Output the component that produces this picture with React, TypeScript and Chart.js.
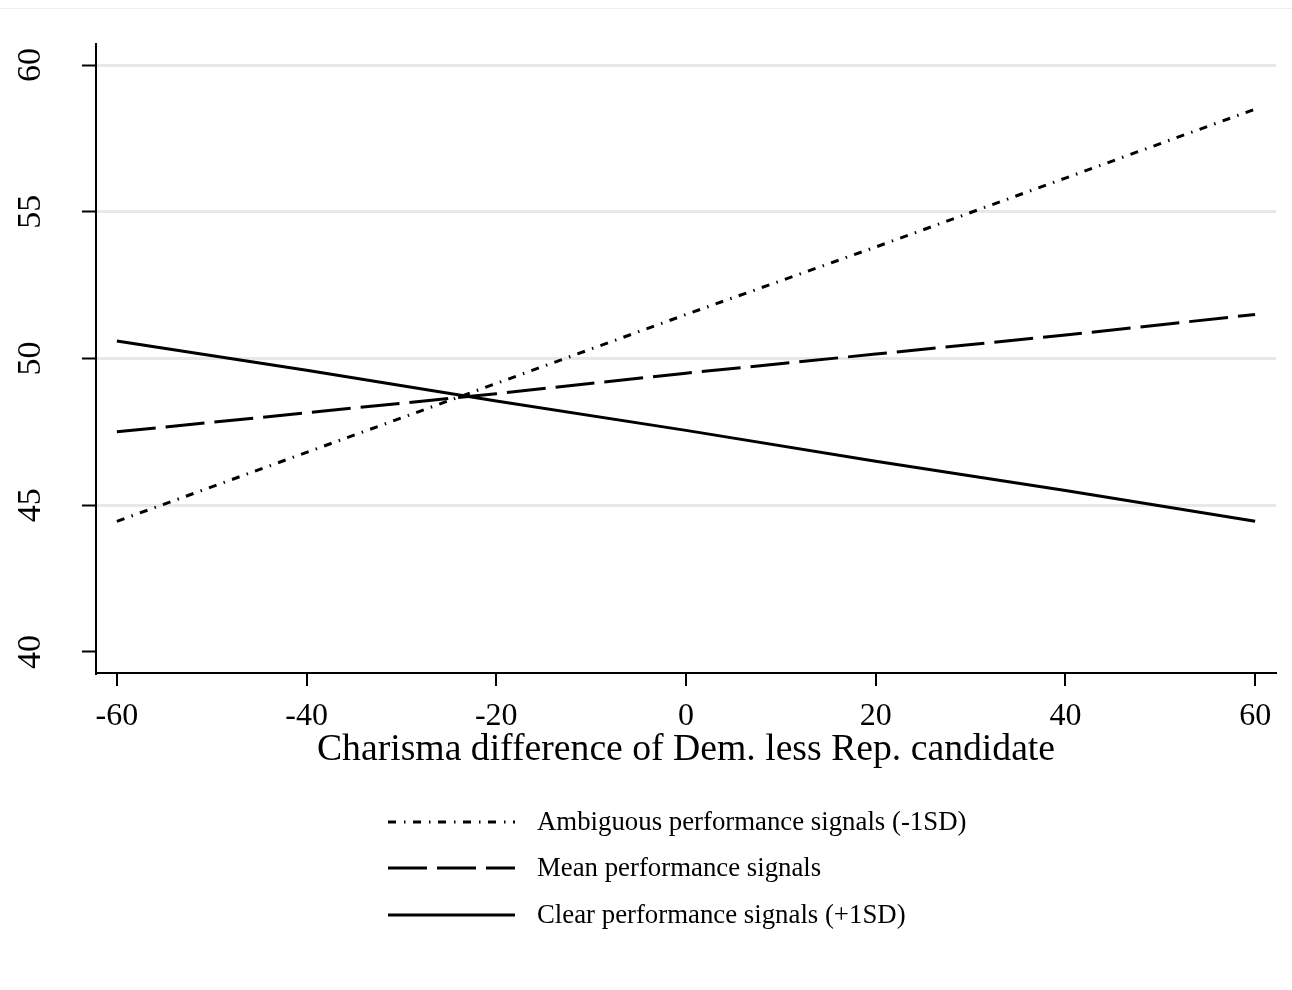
import React, { useEffect, useRef } from "react";
import { Chart, registerables } from "chart.js";

Chart.register(...registerables);

const xValues = [-60, -40, -20, 0, 20, 40, 60];
const ambiguousValues = [44.45, 46.8, 49.15, 51.5, 53.8, 56.15, 58.5];
const meanValues = [47.5, 48.15, 48.8, 49.5, 50.15, 50.8, 51.5];
const clearValues = [50.6, 49.6, 48.55, 47.55, 46.5, 45.5, 44.45];
const xTicks = [-60, -40, -20, 0, 20, 40, 60];
const yTicks = [40, 45, 50, 55, 60];
const seriesLabels = [
  "Ambiguous performance signals (-1SD)",
  "Mean performance signals",
  "Clear performance signals (+1SD)",
];
const xTitle = "Charisma difference of Dem. less Rep. candidate";

const FONT = "'Liberation Serif', 'Times New Roman', Times, serif";

const lineDashes = [[8, 7.5, 1.5, 7.5], [39, 10], []];
const legendDashes = [[8, 8, 1.5, 7.5], [39, 10], []];

const legendPlugin = {
  id: "bottomLegend",
  afterDraw(chart: any) {
    const ctx = chart.ctx;
    const rows = [814, 860, 907];
    ctx.save();
    ctx.strokeStyle = "#000";
    ctx.fillStyle = "#000";
    ctx.lineWidth = 3;
    ctx.font = `26.8px ${FONT}`;
    ctx.textBaseline = "middle";
    ctx.textAlign = "left";
    chart.data.datasets.forEach((ds: any, i: number) => {
      const y = rows[i];
      ctx.setLineDash(legendDashes[i]);
      ctx.beginPath();
      ctx.moveTo(380, y);
      ctx.lineTo(507, y);
      ctx.stroke();
      ctx.setLineDash([]);
      ctx.fillText(ds.label, 529, y + 1);
    });
    ctx.restore();
  },
};

export default function App() {
  const ref = useRef<HTMLCanvasElement | null>(null);

  useEffect(() => {
    if (!ref.current) return;
    const mk = (vals: number[]) => xValues.map((x, i) => ({ x, y: vals[i] }));
    const chart = new Chart(ref.current, {
      type: "line",
      data: {
        datasets: [ambiguousValues, meanValues, clearValues].map((vals, i) => ({
          label: seriesLabels[i],
          data: mk(vals),
          borderColor: "#000",
          backgroundColor: "#000",
          borderWidth: 3,
          borderDash: lineDashes[i],
          pointRadius: 0,
          tension: 0,
          fill: false,
        })),
      },
      options: {
        responsive: false,
        animation: false,
        layout: { padding: { top: 36, right: 8, bottom: 209, left: 0 } },
        plugins: {
          legend: { display: false },
          tooltip: { enabled: false },
        },
        scales: {
          x: {
            type: "linear",
            min: -62.2,
            max: 62.2,
            afterBuildTicks: (s: any) => {
              s.ticks = xTicks.map((v) => ({ value: v }));
            },
            afterFit: (s: any) => {
              s.height = 100;
            },
            ticks: {
              color: "#000",
              font: { family: FONT, size: 32 },
              padding: 11,
              autoSkip: false,
              maxRotation: 0,
              minRotation: 0,
            },
            grid: {
              drawOnChartArea: false,
              drawTicks: true,
              tickLength: 13,
              color: "#000",
              lineWidth: 2,
            },
            border: { color: "#000", width: 2 },
            title: {
              display: true,
              text: xTitle,
              color: "#000",
              font: { family: FONT, size: 37.7 },
              padding: 0,
            },
          },
          y: {
            type: "linear",
            min: 39.28,
            max: 60.72,
            afterBuildTicks: (s: any) => {
              s.ticks = yTicks.map((v) => ({ value: v }));
            },
            afterFit: (s: any) => {
              s.width = 88;
              s.paddingTop = 0;
              s.paddingBottom = 0;
            },
            ticks: {
              color: "#000",
              font: { family: FONT, size: 34 },
              minRotation: 90,
              maxRotation: 90,
              crossAlign: "center",
              padding: 34,
            },
            grid: {
              drawTicks: true,
              tickLength: 14,
              tickColor: "#000",
              tickWidth: 2,
              lineWidth: 3,
              color: (c: any) =>
                c.tick && c.tick.value === 40 ? "rgba(0,0,0,0)" : "#e8e8e8",
            },
            border: { color: "#000", width: 2 },
          },
        },
      },
      plugins: [legendPlugin],
    } as any);
    return () => chart.destroy();
  }, []);

  return (
    <div style={{ position: "relative", width: 1276, height: 974 }}>
      <div
        style={{
          position: "fixed",
          top: 8,
          left: 0,
          width: "100%",
          height: 1,
          background: "#ececec",
        }}
      />
      <canvas ref={ref} width={1276} height={974} style={{ display: "block" }} />
    </div>
  );
}
